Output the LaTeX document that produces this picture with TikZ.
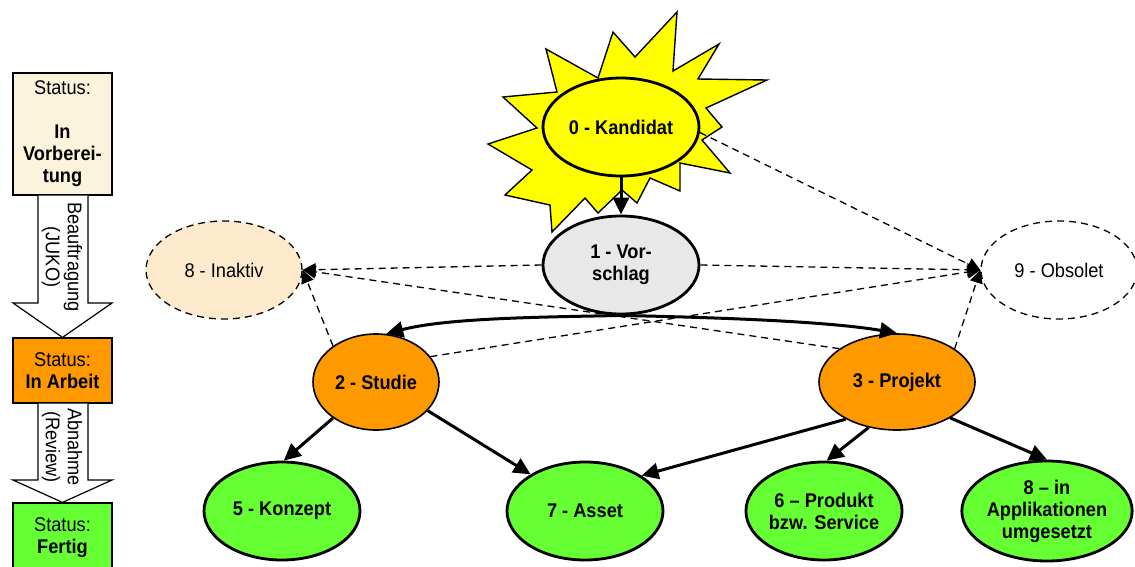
\documentclass[tikz,border=0pt]{standalone}
\usepackage{fontspec}
\setmainfont[FakeStretch=0.92]{Liberation Sans}
\usetikzlibrary{shapes.geometric,arrows.meta}
\definecolor{sunyellow}{HTML}{FFFF00}
\definecolor{orng}{HTML}{FF9900}
\definecolor{grn}{HTML}{66FF33}
\definecolor{lgray}{HTML}{E8E8E8}
\definecolor{bisq}{HTML}{FDE9CC}
\definecolor{cream}{HTML}{FCF3DC}
\begin{document}
\begin{tikzpicture}[x=1pt,y=-1pt,
  every node/.style={font=\fontsize{19.8}{22}\selectfont},
  bfn/.style={font=\fontsize{19.8}{22}\selectfont\bfseries},
  st/.style={ellipse,draw,inner sep=0pt,minimum width=156pt,minimum height=98pt,align=center},
  thick3/.style={line width=2.8pt},
  dsh/.style={dash pattern=on 7pt off 5pt},
  sarr/.style={line width=3pt,-{Triangle[length=17pt,width=16pt]}},
  darr/.style={line width=1.3pt,dash pattern=on 7pt off 5pt,-{Triangle[length=13pt,width=13pt]}},
  box/.style={rectangle,draw,line width=1.2pt,minimum width=99pt,inner sep=0pt,align=center},
  blk/.style={draw,fill=white,line width=1.2pt,line join=miter}
]
\useasboundingbox (0,0) rectangle (1135,566);
\clip (0,0) rectangle (1135,566);

% sun
\draw[fill=sunyellow,line width=1.4pt,line join=miter]
 (503,97) -- (557,92) -- (546,49) -- (598,78) -- (613,32) -- (635,57) -- (677,12)
 -- (673,71) -- (719,44) -- (698,79) -- (767,80) -- (706,108) -- (722,127)
 -- (702,140) -- (730,173) -- (680,163) -- (680,191) -- (650,178) -- (637,203)
 -- (622,190) -- (598,213) -- (585,198) -- (552,232) -- (550,205) -- (505,195)
 -- (532,170) -- (488,144) -- (537,128) -- cycle;

% nodes
\node[st,bfn,fill=sunyellow,thick3] (k0) at (621,127) {0 - Kandidat};
\node[st,bfn,fill=lgray,thick3] (v) at (621,265) {1 - Vor-\\schlag};
\node[st,fill=bisq,line width=1.3pt,dsh] (i) at (224,270) {8 - Inaktiv};
\node[st,fill=white,line width=1.3pt,dsh] (o) at (1059,270) {9 - Obsolet};
\node[st,bfn,fill=orng,line width=1.6pt,minimum width=126pt,minimum height=96pt] (s) at (376,382) {2 - Studie};
\node[st,bfn,fill=orng,line width=1.6pt,minimum height=96pt] (p) at (897,382) {3 - Projekt};
\node[st,bfn,fill=grn,thick3] (kz) at (282,511) {5 - Konzept};
\node[st,bfn,fill=grn,thick3] (a) at (585,511) {7 - Asset};
\node[st,bfn,fill=grn,thick3] (pr) at (824,511) {6 – Produkt\\bzw. Service};
\node[st,bfn,fill=grn,thick3,minimum width=170pt,minimum height=100pt] (ap) at (1047,511) {8 – in\\Applikationen\\umgesetzt};

% solid edges
\draw[sarr] (k0.south) -- (v.north);
\draw[sarr] (v.south) .. controls (560,317) and (450,317) .. (s.78);
\draw[sarr] (v.south) .. controls (690,317) and (820,320) .. (p.north);
\draw[sarr] (s.220) -- (kz.88);
\draw[sarr] (s.-29) -- (a.146);
\draw[sarr] (p.216) -- (a.32);
\draw[sarr] (p.238) -- (pr.87);
\draw[sarr] (p.-34) -- (ap.90);

% dashed edges
\draw[darr] (v.west) -- (i.east);
\draw[darr] (p.150) -- (i.east);
\draw[darr] (s.140) -- (i.east);
\draw[darr] (v.east) -- (o.west);
\draw[darr] (k0.-4) -- (o.west);
\draw[darr] (s.25) -- (o.west);
\draw[darr] (p.30) -- (o.west);

% left column
\node[box,fill=cream,minimum height=122pt] (b1) at (62.5,134) {Status:\\[22pt]\textbf{In}\\\textbf{Vorberei-}\\\textbf{tung}};
\node[box,fill=orng,minimum height=65pt] (b2) at (62.5,370.5) {Status:\\\textbf{In Arbeit}};
\node[box,fill=grn,minimum height=70pt] (b3) at (62.5,538) {Status:\\\textbf{Fertig}};

\draw[blk] (38,195.6) -- (38,303) -- (13,303) -- (b2.north) -- (112,303) -- (88,303) -- (88,195.6);
\draw[blk] (38,403.6) -- (38,480) -- (13,480) -- (b3.north) -- (112,480) -- (88,480) -- (88,403.6);
\node[rotate=-90,align=center] (t1) at (62,257) {Beauftragung\\(JUKO)};
\node[rotate=-90,align=center] (t2) at (62,447) {Abnahme\\(Review)};
\end{tikzpicture}
\end{document}
